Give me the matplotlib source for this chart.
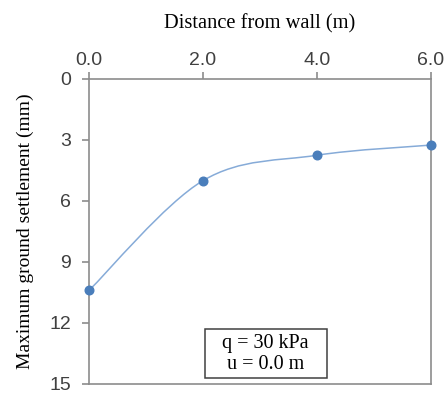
import numpy as np
import matplotlib
matplotlib.use("Agg")
import matplotlib.pyplot as plt
from matplotlib.path import Path
from matplotlib.patches import PathPatch, Rectangle

# data
distance = [0.0, 2.0, 4.0, 6.0]
settlement = [10.4, 5.0, 3.75, 3.25]
x_ticks = [0.0, 2.0, 4.0, 6.0]
y_ticks = [0, 3, 6, 9, 12, 15]

line_color = "#86abd8"
marker_color = "#4a7ebb"
axis_color = "#8c8c8c"
tick_font = "Liberation Sans"
label_font = "Liberation Serif"

fig = plt.figure(figsize=(4.47, 3.94), dpi=100)
ax = fig.add_axes([0.199, 0.0254, 0.765, 0.7741])


def smooth_path(xs, ys):
    # excel-style smoothed line: catmull-rom segments as cubic beziers
    pts = np.column_stack([xs, ys])
    ext = np.vstack([pts[0], pts, pts[-1]])
    verts = [pts[0]]
    codes = [Path.MOVETO]
    for i in range(1, len(ext) - 2):
        p0, p1, p2, p3 = ext[i - 1], ext[i], ext[i + 1], ext[i + 2]
        verts += [p1 + (p2 - p0) / 6, p2 - (p3 - p1) / 6, p2]
        codes += [Path.CURVE4] * 3
    return Path(verts, codes)


ax.add_patch(PathPatch(smooth_path(distance, settlement), facecolor="none",
                       edgecolor=line_color, lw=1.1, zorder=2))
ax.plot(distance, settlement, ls="none", marker="o", ms=6.2,
        color=marker_color, zorder=3, clip_on=False)

ax.set_xlim(0, 6)
ax.set_ylim(15, 0)
ax.xaxis.tick_top()
ax.xaxis.set_label_position("top")
ax.set_xticks(x_ticks)
ax.set_xticklabels([f"{v:.1f}" for v in x_ticks])
ax.set_yticks(y_ticks)

for side in ["top", "left", "right", "bottom"]:
    ax.spines[side].set_color(axis_color)
    ax.spines[side].set_linewidth(1.2)

ax.tick_params(axis="both", direction="out", length=5, width=1.2,
               color=axis_color, labelsize=14, labelcolor="#404040")
ax.tick_params(axis="x", pad=2)
ax.tick_params(axis="y", pad=8)
for lbl in ax.get_xticklabels() + ax.get_yticklabels():
    lbl.set_fontfamily(tick_font)

ax.set_xlabel("Distance from wall (m)", fontfamily=label_font, fontsize=14.8,
              labelpad=17)
ax.set_ylabel("Maximum ground settlement (mm)", fontfamily=label_font,
              fontsize=14, labelpad=11)

# note box
ax.add_patch(Rectangle((0.339, 0.02), 0.357, 0.16, transform=ax.transAxes,
                       facecolor="white", edgecolor="#404040", lw=1.1,
                       zorder=4))
ax.text(0.517, 0.098, "q = 30 kPa\nu = 0.0 m", transform=ax.transAxes,
        ha="center", va="center", fontfamily=label_font, fontsize=14.5,
        linespacing=1.15, zorder=5)

fig.savefig("out.png", dpi=100)
